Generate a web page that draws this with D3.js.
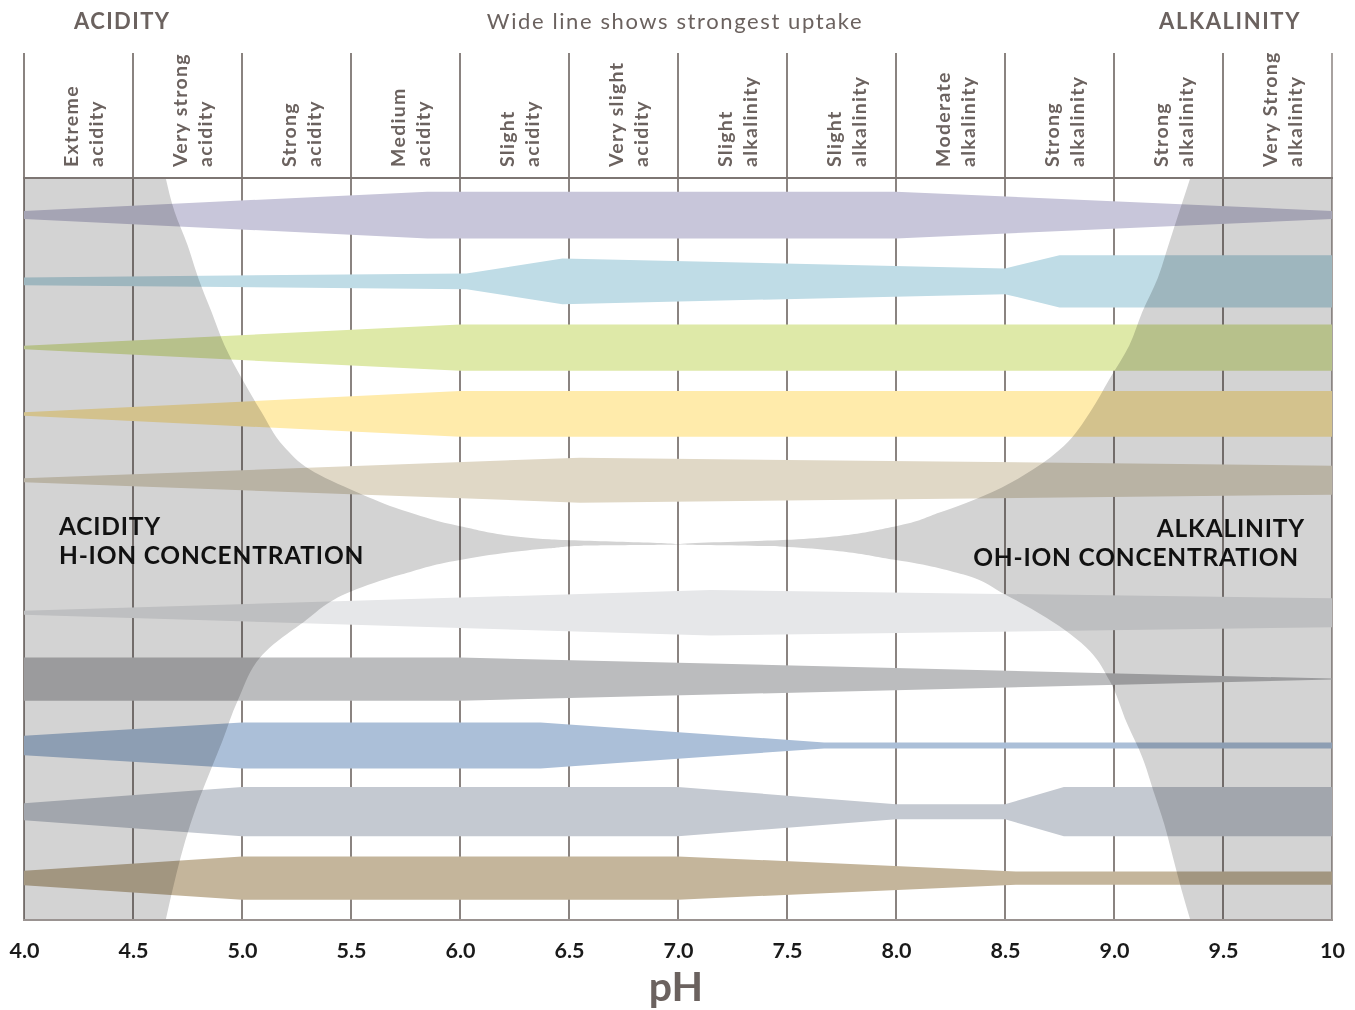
<!DOCTYPE html>
<html>
<head>
<meta charset="utf-8">
<script src="https://cdn.jsdelivr.net/npm/d3@7"></script>
<style>
  body { margin: 0; background: #fff; }
  svg  { display: block; font-family: Lato, "Open Sans", sans-serif; }
</style>
</head>
<body>
<svg id="chart" width="1355" height="1010"></svg>
<script>
// pH axis
const PH_TICKS    = [4, 4.5, 5, 5.5, 6, 6.5, 7, 7.5, 8, 8.5, 9, 9.5, 10];
const TICK_LABELS = ['4.0', '4.5', '5.0', '5.5', '6.0', '6.5', '7.0', '7.5', '8.0', '8.5', '9.0', '9.5', '10'];

// header cells, one per half pH unit
const ZONES = [
    ['Extreme', 'acidity'], ['Very strong', 'acidity'], ['Strong', 'acidity'],
    ['Medium', 'acidity'], ['Slight', 'acidity'], ['Very slight', 'acidity'],
    ['Slight', 'alkalinity'], ['Slight', 'alkalinity'], ['Moderate', 'alkalinity'],
    ['Strong', 'alkalinity'], ['Strong', 'alkalinity'], ['Very Strong', 'alkalinity']
];

// rows top to bottom ('neutral' is the empty row where the ion curves meet)
const ROWS = ['Nitrogen', 'Phosphorus', 'Potassium', 'Sulphur', 'Calcium', 'neutral',
    'Magnesium', 'Iron', 'Manganese', 'Boron', 'Copper & Zinc'];

// uptake per nutrient: [pH, relative uptake 0-10]
const nitrogen   = [[4.0, 1.6], [5.85, 9.35], [8.0, 9.35], [10, 1.6]];
const phosphorus = [[4.0, 1.55], [6.03, 3.15], [6.47, 9.15], [8.5, 5.15], [8.75, 10.45], [10, 10.45]];
const potassium  = [[4.0, 0.7], [6.0, 9.25], [10, 9.25]];
const sulphur    = [[4.0, 0.7], [6.0, 9.15], [10, 9.15]];
const calcium    = [[4.0, 0.8], [6.55, 9.0], [10, 5.8]];
const magnesium  = [[4.0, 0.8], [7.15, 9.1], [10, 5.8]];
const iron       = [[4.0, 8.65], [6.0, 8.65], [10, 0.2]];
const manganese  = [[4.0, 3.9], [5.0, 9.2], [6.37, 9.2], [7.67, 1.2], [10, 1.2]];
const boron      = [[4.0, 3.4], [5.0, 9.85], [7.0, 9.85], [8.0, 3.0], [8.5, 3.0], [8.77, 9.85], [10, 9.85]];
const copperZinc = [[4.0, 2.9], [5.0, 8.65], [7.0, 8.65], [8.55, 2.65], [10, 2.65]];

// ion concentration boundaries: [pH, relative concentration 0-1]
const hIonTop = [[4.65, 1.0], [4.69, 0.909], [4.75, 0.817], [4.80, 0.726], [4.86, 0.635], [4.92, 0.543],
    [5.00, 0.452], [5.09, 0.361], [5.19, 0.269], [5.31, 0.205], [5.53, 0.142], [5.77, 0.087],
    [6.00, 0.050], [6.41, 0.014], [7.0, 0]];
const hIonBottom = [[4.65, 1.0], [4.70, 0.875], [4.74, 0.788], [4.79, 0.699], [4.85, 0.610], [4.91, 0.523],
    [4.98, 0.416], [5.11, 0.284], [5.27, 0.212], [5.50, 0.125], [5.73, 0.080], [6.00, 0.041],
    [6.41, 0.010], [6.56, 0.003], [7.0, 0]];
const ohIonTop = [[9.35, 1.0], [9.30, 0.909], [9.25, 0.817], [9.20, 0.726], [9.13, 0.635], [9.07, 0.543],
    [8.98, 0.452], [8.89, 0.361], [8.77, 0.269], [8.63, 0.205], [8.40, 0.132], [8.20, 0.087],
    [8.00, 0.050], [7.55, 0.014], [7.0, 0]];
const ohIonBottom = [[9.35, 1.0], [9.31, 0.920], [9.27, 0.832], [9.23, 0.744], [9.18, 0.655], [9.13, 0.567],
    [9.06, 0.477], [8.98, 0.363], [8.89, 0.284], [8.69, 0.195], [8.50, 0.133], [8.31, 0.080],
    [8.00, 0.041], [7.47, 0.005], [7.0, 0]];

const bandData = [
    ['Nitrogen', nitrogen], ['Phosphorus', phosphorus], ['Potassium', potassium],
    ['Sulphur', sulphur], ['Calcium', calcium], ['Magnesium', magnesium], ['Iron', iron],
    ['Manganese', manganese], ['Boron', boron], ['Copper & Zinc', copperZinc]
];
const bandColor = d3.scaleOrdinal()
    .domain(bandData.map(d => d[0]))
    .range(['#c8c6da', '#bfdce6', '#dee9a8', '#ffebab', '#e0d8c6',
            '#e6e7e9', '#bbbcbe', '#abbfd8', '#c4c9d1', '#c4b59b']);

const TEXT_COL = '#6b625f';
const GRID_COL = '#8a8380';
const ION_GRAY = '#d3d3d3';

const svg  = d3.select('#chart');
const plot = { left: 24, right: 1332, top: 178, bottom: 920, head: 53 };

const x   = d3.scaleLinear().domain([4, 10]).range([plot.left, plot.right]);
const row = d3.scalePoint().domain(ROWS).range([plot.top + 37, plot.bottom - 42]);
const w   = d3.scaleLinear().domain([0, 10]).range([0, 50]);

// vertical grid lines (header + plot)
svg.append('g')
    .selectAll('line')
    .data(PH_TICKS)
    .join('line')
    .attr('x1', d => x(d)).attr('x2', d => x(d))
    .attr('y1', plot.head).attr('y2', plot.bottom)
    .attr('stroke', (d, i) => i === PH_TICKS.length - 1 ? '#a8a2a0' : GRID_COL)
    .attr('stroke-width', 2);

// nutrient bands
const bandG = svg.append('g');
bandData.forEach(([name, pts]) => {
    const cy = row(name);
    const area = d3.area()
        .x(d => x(d[0]))
        .y0(d => cy - w(d[1]) / 2)
        .y1(d => cy + w(d[1]) / 2);
    bandG.append('path')
        .datum(pts)
        .attr('d', area)
        .attr('fill', bandColor(name));
});

// H-ion / OH-ion concentration regions (multiplied over the bands)
const pinch = row('neutral') - 2;
const upY   = d3.scaleLinear().domain([0, 1]).range([pinch, plot.top]);
const dnY   = d3.scaleLinear().domain([0, 1]).range([pinch, plot.bottom]);

function ionOutline(top, bottom) {
    const a = top.slice().sort((p, q) => q[1] - p[1]).map(d => ({ ph: d[0], y: upY(d[1]) }));
    const b = bottom.slice().sort((p, q) => p[1] - q[1]).filter(d => d[1] > 0)
        .map(d => ({ ph: d[0], y: dnY(d[1]) }));
    return a.concat(b);
}

const ionG = svg.append('g');
[[hIonTop, hIonBottom, 4], [ohIonTop, ohIonBottom, 10]].forEach(([top, bottom, edge]) => {
    const area = d3.area()
        .curve(d3.curveMonotoneY)
        .y(d => d.y)
        .x0(x(edge))
        .x1(d => x(d.ph));
    ionG.append('path')
        .datum(ionOutline(top, bottom))
        .attr('d', area)
        .attr('fill', ION_GRAY)
        .style('mix-blend-mode', 'multiply');
});

// frame lines
svg.append('line')
    .attr('x1', plot.left - 1).attr('x2', plot.right + 1)
    .attr('y1', plot.top).attr('y2', plot.top)
    .attr('stroke', '#7d7673').attr('stroke-width', 2);
svg.append('line')
    .attr('x1', plot.left - 1).attr('x2', plot.right + 1)
    .attr('y1', plot.bottom).attr('y2', plot.bottom)
    .attr('stroke', '#9a9391').attr('stroke-width', 2);

// header zone labels (rotated)
const headG = svg.append('g')
    .attr('font-size', 19.5)
    .attr('font-weight', 700)
    .attr('letter-spacing', 1.3)
    .attr('fill', TEXT_COL);
ZONES.forEach((lines, i) => {
    const cx = (x(PH_TICKS[i]) + x(PH_TICKS[i + 1])) / 2;
    lines.forEach((t, j) => {
        headG.append('text')
            .attr('transform', `translate(${cx - 1 + j * 25.5},167) rotate(-90)`)
            .text(t);
    });
});

// titles
svg.append('text')
    .attr('x', 74).attr('y', 29)
    .attr('font-size', 22).attr('font-weight', 700).attr('letter-spacing', 1.4)
    .attr('fill', TEXT_COL)
    .text('ACIDITY');
svg.append('text')
    .attr('x', 1301).attr('y', 29)
    .attr('text-anchor', 'end')
    .attr('font-size', 22).attr('font-weight', 700).attr('letter-spacing', 1.6)
    .attr('fill', TEXT_COL)
    .text('ALKALINITY');
svg.append('text')
    .attr('x', 675).attr('y', 29)
    .attr('text-anchor', 'middle')
    .attr('font-size', 22).attr('letter-spacing', 1.6)
    .attr('fill', TEXT_COL)
    .text('Wide line shows strongest uptake');

// ion labels
const ionLab = svg.append('g')
    .attr('font-size', 24.5)
    .attr('font-weight', 700)
    .attr('letter-spacing', 0.8)
    .attr('fill', '#111');
ionLab.append('text').attr('x', 59).attr('y', 535).text('ACIDITY');
ionLab.append('text').attr('x', 59).attr('y', 564).text('H-ION CONCENTRATION');
ionLab.append('text').attr('x', 1305).attr('y', 537).attr('text-anchor', 'end').text('ALKALINITY');
ionLab.append('text').attr('x', 1299).attr('y', 566).attr('text-anchor', 'end').text('OH-ION CONCENTRATION');

// x axis labels
const axis = d3.axisBottom(x)
    .tickValues(PH_TICKS)
    .tickFormat((d, i) => TICK_LABELS[i])
    .tickSize(0)
    .tickPadding(0);
const axG = svg.append('g')
    .attr('transform', `translate(0,${plot.bottom + 23})`)
    .call(axis);
axG.select('.domain').remove();
axG.selectAll('text')
    .attr('font-family', 'Lato, "Open Sans", sans-serif')
    .attr('font-size', 21.5)
    .attr('font-weight', 700)
    .attr('fill', '#1a1a1a');

svg.append('text')
    .attr('x', 676).attr('y', 1001)
    .attr('text-anchor', 'middle')
    .attr('font-size', 41).attr('font-weight', 700)
    .attr('fill', TEXT_COL)
    .text('pH');
</script>
</body>
</html>
